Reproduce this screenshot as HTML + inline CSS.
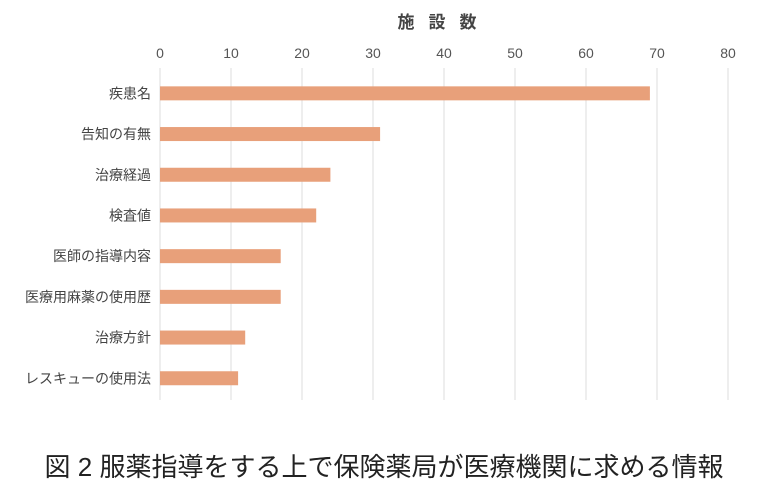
<!DOCTYPE html>
<html><head><meta charset="utf-8">
<style>
body{margin:0;background:#fff;width:768px;height:487px;overflow:hidden;font-family:"Liberation Sans","Noto Sans CJK JP",sans-serif;}
svg text{font-family:"Liberation Sans","Noto Sans CJK JP",sans-serif;}
</style></head>
<body>
<svg id="chart" width="768" height="487" xmlns="http://www.w3.org/2000/svg">
<text x="444" y="28" text-anchor="middle" font-size="17" font-weight="bold" fill="#444" letter-spacing="14">施設数</text>
<g id="grid"></g>
<g id="ticks"></g>
<g id="bars"></g>
<g id="cats"></g>
<text x="384" y="476" text-anchor="middle" font-size="26" fill="#222">図 2  服薬指導をする上で保険薬局が医療機関に求める情報</text>
</svg>
<script>
const categories=["疾患名","告知の有無","治療経過","検査値","医師の指導内容","医療用麻薬の使用歴","治療方針","レスキューの使用法"];
const values=[69,31,24,22,17,17,12,11];
const tickLabels=[0,10,20,30,40,50,60,70,80];
const NS="http://www.w3.org/2000/svg";
const x0=160,x1=728,xmax=80,yTop=73,band=40.7;
const xs=v=>x0+(x1-x0)*v/xmax;
const yc=i=>yTop+band*(i+0.5);
function mk(t,a,p){const e=document.createElementNS(NS,t);for(const k in a)e.setAttribute(k,a[k]);document.getElementById(p).appendChild(e);return e;}
tickLabels.forEach(t=>{
 const l=mk("line",{x1:xs(t),x2:xs(t),y1:68,y2:400,stroke:"#ddd","stroke-width":1},"grid");
 
 
 const tx=mk("text",{x:xs(t),y:58,"text-anchor":"middle","font-size":14,fill:"#555"},"ticks");
 tx.textContent=t;
 
 
});
categories.forEach((c,i)=>{
 const r=mk("rect",{x:x0,y:yc(i)-7,width:xs(values[i])-x0,height:14,fill:"#E8A07A"},"bars");
 
 
 const t=mk("text",{x:151,y:yc(i)+5,"text-anchor":"end","font-size":14,fill:"#444"},"cats");
 t.textContent=c;
 
 
});
</script>
</body></html>
